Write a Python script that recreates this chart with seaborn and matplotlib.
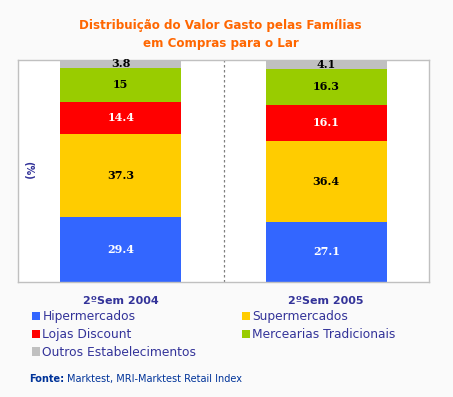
import numpy as np
import matplotlib
matplotlib.use("Agg")
import matplotlib.pyplot as plt
from matplotlib.patches import Patch
import seaborn as sns

# ---------------------
# Data
# ---------------------
periods = ["2ºSem 2004", "2ºSem 2005"]
segments = ["Hipermercados", "Supermercados", "Lojas Discount",
            "Mercearias Tradicionais", "Outros Estabelecimentos"]
hiper = [29.4, 27.1]
super_ = [37.3, 36.4]
discount = [14.4, 16.1]
mercearias = [15, 16.3]
outros = [3.8, 4.1]

colors = ["#3366FF", "#FFCC00", "#FF0000", "#99CC00", "#C0C0C0"]
label_colors = ["white", "black", "white", "black", "black"]
navy = "#333399"

sns.set_style("white")
plt.rcParams["font.family"] = ["DejaVu Sans"]

fig = plt.figure(figsize=(4.53, 3.97), dpi=100, facecolor="#FAFAFA")
ax = fig.add_axes([18 / 453, 1 - 282 / 397, 411 / 453, 222.5 / 397])
ax.set_facecolor("white")

series = [hiper, super_, discount, mercearias, outros]
cum = np.cumsum(np.array(series), axis=0)

# draw from tallest cumulative down so each layer shows
for i in range(len(series) - 1, -1, -1):
    sns.barplot(x=periods, y=cum[i], color=colors[i], width=0.59,
                saturation=1, ax=ax, edgecolor="none", linewidth=0)

for i, vals in enumerate(series):
    for j, v in enumerate(vals):
        txt = f"{v:g}"
        ax.text(j, cum[i][j] - v / 2, txt, ha="center", va="center",
                color=label_colors[i], fontsize=8, fontweight="bold",
                family="DejaVu Serif")

ax.set_xlim(-0.5, 1.5)
ax.set_ylim(0, 100)
ax.axvline(0.5, color="#808080", linestyle=(0, (2, 2)), linewidth=0.9)

for s in ax.spines.values():
    s.set_color("#C0C0C0")
    s.set_linewidth(1)

ax.set_yticks([])
ax.set_xticks([0, 1])
ax.set_xticklabels(periods, fontsize=8, fontweight="bold", color=navy)
ax.tick_params(axis="x", which="major", length=0, pad=10)
ax.set_xticks([-0.5, 0.5, 1.5], minor=True)
ax.tick_params(axis="x", which="minor", length=4, color="#C0C0C0", width=1)
ax.set_xlabel("")
ax.set_ylabel("")

ax.text(0.024, 0.5, "(%)", transform=ax.transAxes, rotation=-90,
        ha="center", va="center", color=navy, fontsize=7, fontweight="bold")

fig.text(0.487, 1 - 25 / 397, "Distribuição do Valor Gasto pelas Famílias",
         ha="center", va="center", color="#FF6600", fontsize=8.6, fontweight="bold")
fig.text(0.487, 1 - 43 / 397, "em Compras para o Lar",
         ha="center", va="center", color="#FF6600", fontsize=8.6, fontweight="bold")

order = [0, 2, 4, 1, 3]
handles = [Patch(facecolor=colors[k], edgecolor="none") for k in order]
labels = [segments[k] for k in order]
leg = fig.legend(handles, labels, ncol=2, loc="upper left",
                 bbox_to_anchor=(32 / 453, 1 - 310 / 397), frameon=False,
                 fontsize=8.8, handlelength=0.65, handleheight=0.65,
                 handletextpad=0.2, columnspacing=3.7, labelspacing=0.4,
                 borderpad=0, borderaxespad=0)
for t in leg.get_texts():
    t.set_color(navy)

fig.text(29 / 453, 1 - 379 / 397, "Fonte:", ha="left", va="center",
         color="#003399", fontsize=7, fontweight="bold")
fig.text(67 / 453, 1 - 379 / 397, "Marktest, MRI-Marktest Retail Index",
         ha="left", va="center", color="#003399", fontsize=7)

fig.savefig("out.png", dpi=100, facecolor=fig.get_facecolor())
